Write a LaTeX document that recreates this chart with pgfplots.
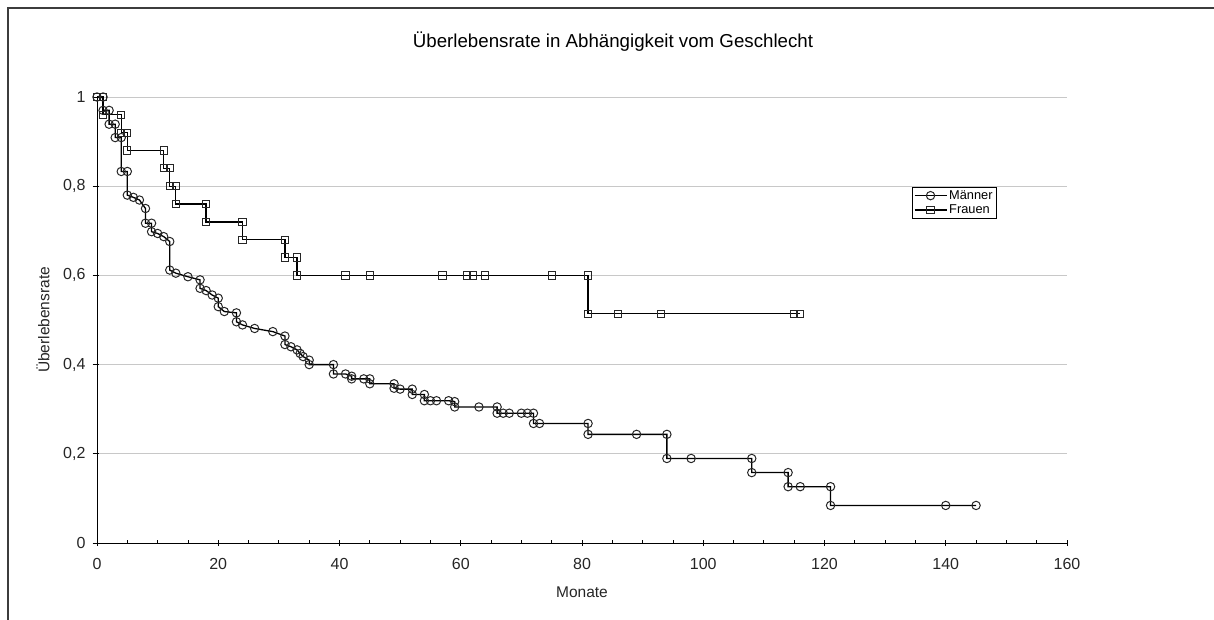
\documentclass[border=0pt]{standalone}
\usepackage{fontspec}
\setmainfont{Liberation Sans}
\usepackage{pgfplots}
\pgfplotsset{compat=1.18}
\definecolor{gridgray}{RGB}{200,200,200}
\definecolor{framegray}{RGB}{60,60,60}
\begin{document}
\begin{tikzpicture}[x=1pt,y=1pt]
\path[use as bounding box] (0,0) rectangle (1214,619);
\draw[framegray, line width=1.2pt] (8,-2) -- (8,611) -- (1216,611);
\node[anchor=base, font=\fontsize{18.7}{22}\selectfont] at (613,571) {Überlebensrate in Abhängigkeit vom Geschlecht};
\begin{axis}[
  at={(97pt,76pt)}, anchor=south west,
  scale only axis, width=970pt, height=446pt,
  xmin=0, xmax=160, ymin=0, ymax=1,
  axis x line*=bottom, axis y line*=left,
  axis line style={black, line width=1pt},
  xtick={0,20,40,60,80,100,120,140,160}, minor x tick num=3,
  ytick={0,0.2,0.4,0.6,0.8,1},
  ymajorgrids, major grid style={gridgray, line width=0.9pt},
  tick align=center, major tick length=6pt, minor tick length=3pt,
  tick style={black, line width=0.8pt},
  minor x tick style={yshift=1.5pt},
  y tick style={xshift=-1.5pt},
  /pgf/number format/use comma,
  /pgf/number format/assume math mode=true,
  ticklabel style={font=\fontsize{16}{18}\selectfont, text=black!85},
  xticklabel style={yshift=-9pt},
  yticklabel style={xshift=-5pt},
  xlabel={Monate}, ylabel={Überlebensrate},
  every axis x label/.style={at={(axis description cs:0.5,-0.110)}, anchor=center, font=\fontsize{15.5}{18}\selectfont, text=black!85},
  every axis y label/.style={at={(axis description cs:-0.0557,0.5)}, rotate=90, anchor=center, font=\fontsize{15.5}{18}\selectfont, text=black!85},
  legend style={at={(0.8402,0.798)}, anchor=north west, draw=black, line width=0.8pt,
    font=\fontsize{12.8}{15}\selectfont, inner xsep=1.5pt, inner ysep=1pt, row sep=0pt,
    cells={anchor=west}},
  legend image code/.code={\draw[#1, mark repeat=2, mark phase=2] plot coordinates {(0pt,0pt) (16pt,0pt) (32pt,0pt)};},
  clip=false,
]
\addplot[black, line width=1.3pt, mark=o, mark size=4.2pt, mark options={line width=1pt, black!85}] table {
x y
0 1
1 1
1 0.970
2 0.970
2 0.939
3 0.939
3 0.909
4 0.909
4 0.833
5 0.833
5 0.780
6 0.775
7 0.769
8 0.750
8 0.717
9 0.717
9 0.698
10 0.694
11 0.687
12 0.676
12 0.612
13 0.605
15 0.597
17 0.590
17 0.571
18 0.566
19 0.556
20 0.549
20 0.530
21 0.519
23 0.516
23 0.496
24 0.489
26 0.481
29 0.474
31 0.464
31 0.445
32 0.440
33 0.433
33.5 0.425
34 0.418
35 0.410
35 0.400
39 0.400
39 0.379
41 0.379
42 0.374
42 0.368
44 0.368
45 0.368
45 0.357
49 0.357
49 0.347
50 0.345
52 0.345
52 0.333
54 0.333
54 0.319
55 0.319
56 0.319
58 0.319
59 0.317
59 0.305
63 0.305
66 0.305
66 0.291
67 0.291
68 0.291
70 0.291
71 0.291
72 0.291
72 0.268
73 0.268
81 0.268
81 0.2436
89 0.2436
94 0.2436
94 0.1895
98 0.1895
108 0.1895
108 0.1579
114 0.1579
114 0.1263
116 0.1263
121 0.1263
121 0.0842
140 0.0842
145 0.0842
};
\addlegendentry{Männer}
\addplot[black, line width=1.3pt, mark=square, mark size=3.6pt, mark options={line width=1pt, black!85}] table {
x y
0 1
1 1
1 0.96
4 0.96
4 0.92
5 0.92
5 0.88
11 0.88
11 0.84
12 0.84
12 0.80
13 0.80
13 0.76
18 0.76
18 0.72
24 0.72
24 0.68
31 0.68
31 0.64
33 0.64
33 0.60
41 0.60
45 0.60
57 0.60
61 0.60
62 0.60
64 0.60
75 0.60
81 0.60
81 0.5143
86 0.5143
93 0.5143
115 0.5143
116 0.5143
};
\addlegendentry{Frauen}
\end{axis}
\end{tikzpicture}
\end{document}
